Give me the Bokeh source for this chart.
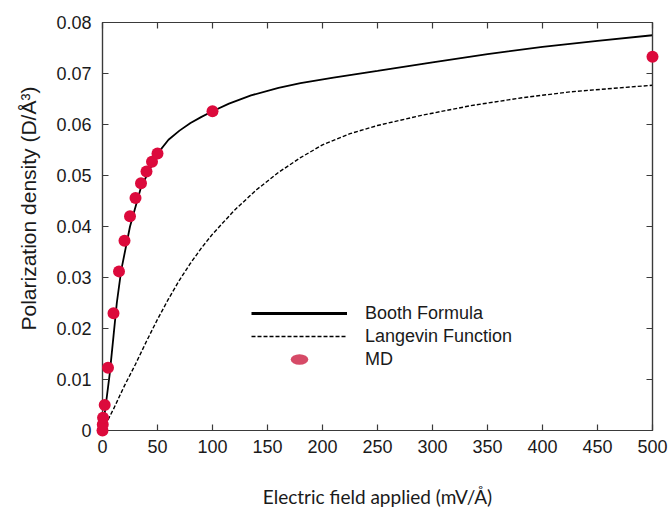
from bokeh.plotting import figure
from bokeh.models import Legend, LegendItem, LinearAxis, FixedTicker, Range1d, Title
from bokeh.embed import file_html
from bokeh.resources import INLINE

# ---- data ----
md_field = [0, 0.25, 0.5, 2, 5, 10, 15, 20, 25, 30, 35, 40, 45, 50, 100, 500]
md_pol = [0.0, 0.0012, 0.0025, 0.0050, 0.0123, 0.0230, 0.0312, 0.0372, 0.0420,
          0.0456, 0.0485, 0.0508, 0.0527, 0.0543, 0.0626, 0.0733]

booth_field = [0, 3, 6.5, 10, 13, 17, 25, 35, 50, 60, 70, 80, 90, 100, 115, 135, 160,
               180, 210, 250, 300, 350, 400, 450, 500]
booth_pol = [0.0, 0.0050, 0.0110, 0.0185, 0.0250, 0.0314, 0.0400, 0.0477, 0.0543,
             0.0570, 0.0588, 0.0603, 0.0615, 0.0626, 0.0641, 0.0657, 0.0672,
             0.0681, 0.0692, 0.0705, 0.0722, 0.0738, 0.0752, 0.0764, 0.0775]

langevin_field = [0, 10, 20, 30, 40, 50, 60, 70, 80, 90, 100, 120, 140, 160, 180, 200,
                  225, 250, 290, 335, 380, 425, 465, 500]
langevin_pol = [0.0, 0.0042, 0.0088, 0.0130, 0.0175, 0.0218, 0.0258, 0.0295, 0.0328,
                0.0358, 0.0385, 0.0432, 0.0472, 0.0506, 0.0535, 0.0560, 0.0582,
                0.0598, 0.0618, 0.0637, 0.0652, 0.0664, 0.0671, 0.0677]

x_ticks = [0, 50, 100, 150, 200, 250, 300, 350, 400, 450, 500]
y_ticks = [0, 0.01, 0.02, 0.03, 0.04, 0.05, 0.06, 0.07, 0.08]
y_tick_labels = ["0", "0.01", "0.02", "0.03", "0.04", "0.05", "0.06", "0.07", "0.08"]

FONT = "Liberation Sans"
AX = "#3a3a3a"
TXT = "#1a1a1a"

p = figure(width=672, height=512, x_range=Range1d(0, 500), y_range=Range1d(0, 0.08),
           output_backend="svg", toolbar_location=None,
           min_border_left=101, min_border_right=20, min_border_top=22, min_border_bottom=82,
           x_axis_location=None, y_axis_location=None)
p.grid.visible = False
p.outline_line_color = AX
p.outline_line_width = 1.2
p.background_fill_color = "white"


def make_axis(ticks, labels=None, show_labels=True, standoff=10):
    ax = LinearAxis(ticker=FixedTicker(ticks=ticks))
    ax.axis_line_color = AX
    ax.axis_line_width = 1.2
    ax.major_tick_line_color = AX
    ax.major_tick_line_width = 1.2
    ax.major_tick_in = 6
    ax.major_tick_out = 0
    ax.minor_tick_line_color = None
    ax.major_label_standoff = standoff
    ax.major_label_text_font = FONT
    ax.major_label_text_color = TXT
    ax.major_label_text_font_size = "18px"
    if not show_labels:
        ax.major_label_standoff = 0
        ax.major_label_overrides = {t: "" for t in ticks}
    elif labels is not None:
        ax.major_label_overrides = dict(zip(ticks, labels))
    return ax


xaxis = make_axis(x_ticks, standoff=9)
xaxis.axis_label = "Electric field applied (mV/Å)"
xaxis.axis_label_text_font = "Lato"
xaxis.axis_label_text_font_size = "19px"
xaxis.axis_label_text_font_style = "normal"
xaxis.axis_label_text_color = TXT
xaxis.axis_label_standoff = 29
p.add_layout(xaxis, "below")
p.add_layout(make_axis(x_ticks, show_labels=False), "above")
p.add_layout(make_axis(y_ticks, y_tick_labels, standoff=11), "left")
p.add_layout(make_axis(y_ticks, show_labels=False), "right")

# y axis title
p.add_layout(Title(text="Polarization density (D/Å³)", align="left", offset=100,
                   text_font=FONT, text_font_size="21px", text_font_style="normal",
                   text_color=TXT, standoff=28), "left")

# curves
booth = p.line(booth_field, booth_pol, line_color="black", line_width=1.8)
lang = p.line(langevin_field, langevin_pol, line_color="black", line_width=1.4, line_dash="4 2")

# legend-only renderers
booth_leg = p.line(booth_field, booth_pol, line_color="black", line_width=3, visible=False)
lang_leg = p.line(langevin_field, langevin_pol, line_color="black", line_width=1.4,
                  line_dash="4 2", visible=False)
md_leg = p.ellipse(md_field, md_pol, width=10.2, height=6, width_units="screen",
                   height_units="screen", fill_color="#D64A67", line_color=None)

md = p.scatter(md_field, md_pol, size=12, marker="circle", fill_color="#DC0A3C",
               line_color=None, level="overlay")

legend = Legend(items=[LegendItem(label="Booth Formula", renderers=[booth_leg]),
                       LegendItem(label="Langevin Function", renderers=[lang_leg]),
                       LegendItem(label="MD", renderers=[md_leg])],
                location=(149, 60))
legend.border_line_color = None
legend.background_fill_alpha = 0
legend.padding = 0
legend.margin = 0
legend.spacing = 1
legend.glyph_width = 96
legend.glyph_height = 22
legend.label_height = 22
legend.label_standoff = 18
legend.label_text_font = FONT
legend.label_text_font_size = "18px"
legend.label_text_color = TXT
p.add_layout(legend)

open("out.html", "w").write(file_html(p, INLINE))
